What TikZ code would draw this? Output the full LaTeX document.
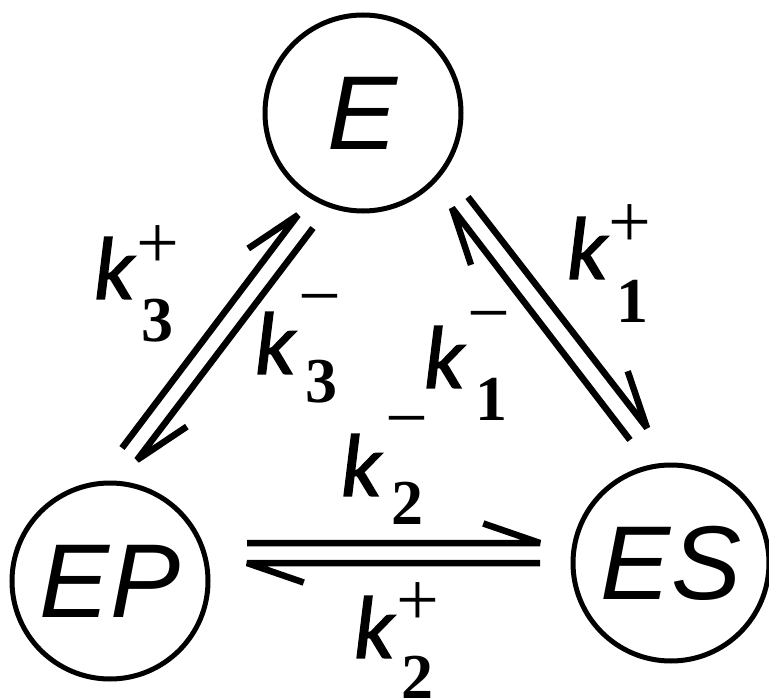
\documentclass[tikz,border=0pt]{standalone}
\usepackage{fontspec}
\setmainfont{Liberation Sans}
\newfontfamily\kfont{Carlito}[ItalicFeatures={FakeBold=1.5}]
\newfontfamily\dfont{Liberation Serif}
\usetikzlibrary{calc}
\begin{document}
\begin{tikzpicture}[x=1pt,y=-1pt,
  state/.style={draw, circle, line width=5pt, minimum size=196pt, inner sep=0pt,
    font=\fontsize{105}{110}\selectfont\itshape},
  rate/.style={inner sep=0pt, font=\kfont\fontsize{89}{90}\selectfont\itshape},
  sgn/.style={inner sep=0pt, font=\dfont\fontsize{76}{80}\selectfont},
  idx/.style={inner sep=0pt, font=\dfont\fontsize{64}{66}\selectfont\bfseries},
  harp/.style={line width=6.5pt, line join=bevel, line cap=butt},
]
\useasboundingbox (0,0) rectangle (769,698);

% states
\node[state] (E)  at (363,113) {E};
\node[state] (EP) at (110,581) {EP};
\node[state] (ES) at (671,563) {ES};

% connector end points
\coordinate (L1a) at (122,448); \coordinate (L1b) at (298,215);
\coordinate (L2a) at (313,228); \coordinate (L2b) at (137,460);
\coordinate (R1a) at (630,440); \coordinate (R1b) at (452,208);
\coordinate (R2a) at (468,197); \coordinate (R2b) at (647,428);
\coordinate (B1a) at (247,543); \coordinate (B1b) at (540,543);
\coordinate (B2a) at (540,563); \coordinate (B2b) at (247,563);

\draw[harp] (L1a) -- (L1b) -- ($(L1b)!60pt!-19:(L1a)$);
\draw[harp] (L2a) -- (L2b) -- ($(L2b)!60pt!-19:(L2a)$);
\draw[harp] (R1a) -- (R1b) -- ($(R1b)!60pt!-19:(R1a)$);
\draw[harp] (R2a) -- (R2b) -- ($(R2b)!60pt!-19:(R2a)$);
\draw[harp] (B1a) -- (B1b) -- ($(B1b)!60pt!-19:(B1a)$);
\draw[harp] (B2a) -- (B2b) -- ($(B2b)!60pt!-19:(B2a)$);

% rate labels
\node[rate] (k3p) at (114,268) {k};
\node[sgn]  (k3ps) at (158,247) {+};
\node[idx]  (k3pi) at (157.5,321) {3};

\node[rate] (k3m) at (275,343) {k};
\node[sgn]  (k3ms) at (320,308) {−};
\node[idx]  (k3mi) at (321,382) {3};

\node[rate] (k1p) at (587,248) {k};
\node[sgn]  (k1ps) at (630,226) {+};
\node[idx]  (k1pi) at (632,301) {1};

\node[rate] (k1m) at (444,357) {k};
\node[sgn]  (k1ms) at (489,325) {−};
\node[idx]  (k1mi) at (491,399) {1};

\node[rate] (k2m) at (361,465) {k};
\node[sgn]  (k2ms) at (407,430) {−};
\node[idx]  (k2mi) at (407,503) {2};

\node[rate] (k2p) at (374,627) {k};
\node[sgn]  (k2ps) at (417.5,604) {+};
\node[idx]  (k2pi) at (417.5,677) {2};
\end{tikzpicture}
\end{document}
